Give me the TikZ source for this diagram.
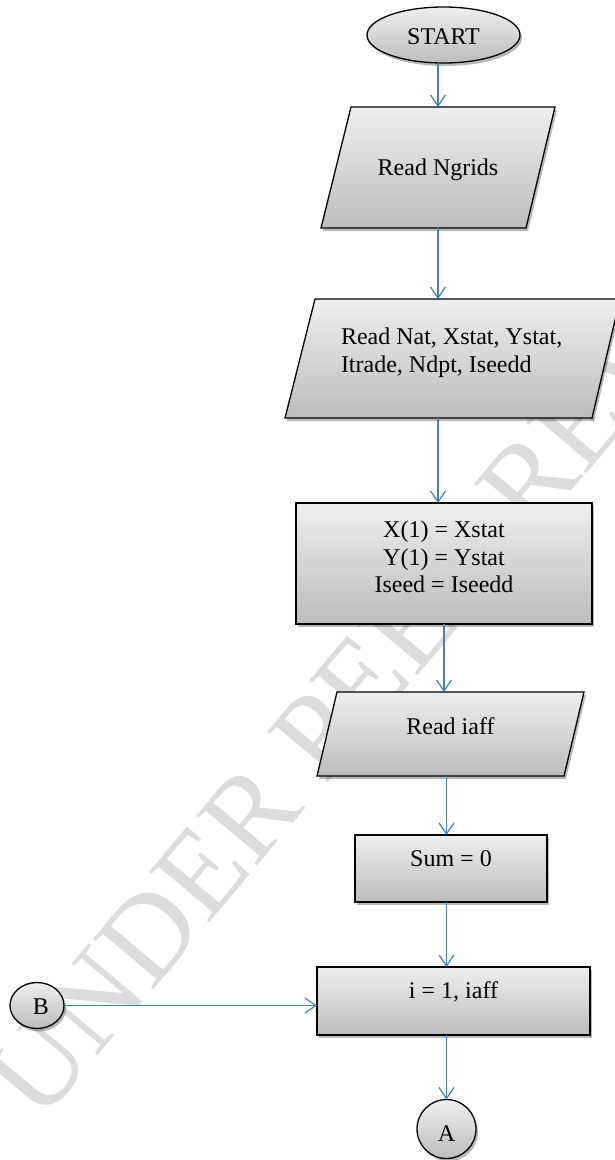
\documentclass[tikz,border=0pt]{standalone}
\usepackage{fontspec}
\setmainfont{Liberation Serif}
\usetikzlibrary{shapes.geometric,shadows,arrows.meta,calc}
\definecolor{gtop}{RGB}{238,238,238}
\definecolor{gbot}{RGB}{188,188,188}
\definecolor{arrblue}{RGB}{74,126,187}
\definecolor{wmgray}{RGB}{220,220,220}
\newcommand{\fsz}{\fontsize{24}{27.6}\selectfont}
\tikzset{
  fc/.style={draw=black, line width=1.3pt, top color=gtop, bottom color=gbot,
    inner sep=0pt, outer sep=0pt,
    drop shadow={shadow xshift=2pt, shadow yshift=-3pt, opacity=.28, fill=black}},
  bbox/.style={draw=none, rectangle, inner sep=0pt, outer sep=0pt},
  txt/.style={font=\fsz, inner sep=0pt, outer sep=0pt, align=center},
  arr/.style={draw=arrblue, line width=1.2pt, -{Straight Barb[length=11pt,width=15pt]}}
}
\begin{document}
\begin{tikzpicture}[x=1pt,y=-1pt]
\useasboundingbox[fill=white] (0,0) rectangle (615,1160);
% watermark
\node[rotate=50, anchor=base west, inner sep=0pt, text=wmgray,
  font=\fontsize{120}{120}\selectfont] (wm) at (40,1125) {UNDER PEER REVIEW};
% START
\node[fc, ellipse, minimum width=153pt, minimum height=56pt] (start) at (443.5,35) {};
\node[txt] (startt) at (443.5,37) {START};
% Read Ngrids
\node[bbox, minimum width=234pt, minimum height=121pt] (p1) at (438,167.5) {};
\path[fc] ([xshift=30pt]p1.north west) -- (p1.north east)
  -- ([xshift=-29pt]p1.south east) -- (p1.south west) -- cycle;
\node[txt] (p1t) at (438,170) {Read Ngrids};
% Read Nat ...
\node[bbox, minimum width=335pt, minimum height=119pt] (p2) at (452.5,358.5) {};
\path[fc] ([xshift=30pt]p2.north west) -- (p2.north east)
  -- ([xshift=-28pt]p2.south east) -- (p2.south west) -- cycle;
\node[txt, anchor=west, align=left] (p2t) at (341,353) {Read Nat, Xstat, Ystat,\\Itrade, Ndpt, Iseedd};
% X(1) box
\node[fc, rectangle, minimum width=296pt, minimum height=121pt] (r1) at (444,563.5) {};
\node[txt] (r1t) at (444,557) {X(1) = Xstat\\Y(1) = Ystat\\Iseed = Iseedd};
% Read iaff
\node[bbox, minimum width=267pt, minimum height=84pt] (p3) at (450.5,734) {};
\path[fc] ([xshift=20pt]p3.north west) -- (p3.north east)
  -- ([xshift=-20pt]p3.south east) -- (p3.south west) -- cycle;
\node[txt] (p3t) at (450.5,726) {Read iaff};
% Sum = 0
\node[fc, rectangle, minimum width=192pt, minimum height=67pt] (sum) at (451,868.5) {};
\node[txt] (sumt) at (451,859) {Sum = 0};
% i = 1, iaff
\node[fc, rectangle, minimum width=273pt, minimum height=68pt] (loop) at (453.5,1001) {};
\node[txt] (loopt) at (453.5,992) {i = 1, iaff};
% connectors
\node[fc, ellipse, minimum width=54pt, minimum height=46pt] (B) at (37,1005.5) {};
\node[txt] (Bt) at (41,1007) {B};
\node[fc, circle, minimum size=59pt] (A) at (446.5,1129) {};
\node[txt] (At) at (446.5,1134) {A};
% arrows
\draw[arr] (start.south -| p1.north) -- (p1.north);
\draw[arr] (p1.south) -- (p1.south |- p2.north);
\draw[arr] (p1.south |- p2.south) -- (p1.south |- r1.north);
\draw[arr] (r1.south) -- (r1.south |- p3.north);
\draw[arr] (A |- p3.south) -- (A |- sum.north);
\draw[arr] (A |- sum.south) -- (A |- loop.north);
\draw[arr] (A |- loop.south) -- (A.north);
\draw[arr] (B.east) -- (B.east -| loop.west);
\end{tikzpicture}
\end{document}
